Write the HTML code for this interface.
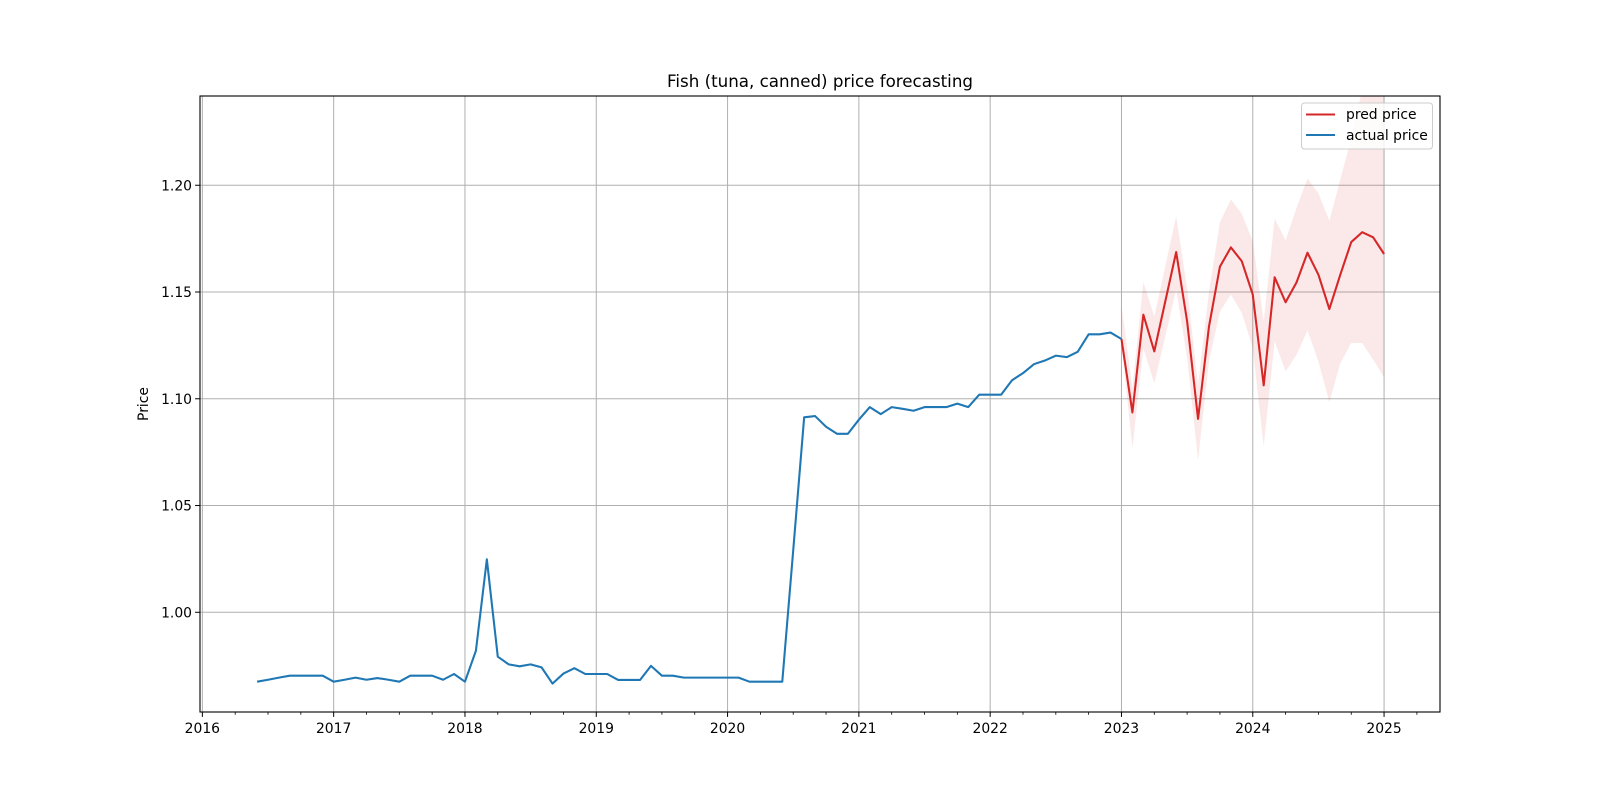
<!DOCTYPE html>
<html><head><meta charset="utf-8"><style>
body{margin:0;background:#fff;}
svg{display:block;font-family:"DejaVu Sans","Liberation Sans",sans-serif;}
</style></head><body>
<svg id="chart" width="1600" height="800" viewBox="0 0 1600 800">
<rect x="0" y="0" width="1600" height="800" fill="#fff"/>
<text x="820" y="87" text-anchor="middle" font-size="16.7" fill="#000">Fish (tuna, canned) price forecasting</text>
<text transform="translate(148,404) rotate(-90)" text-anchor="middle" font-size="13.9" fill="#000">Price</text>
<g id="grid"></g>
<g id="band"></g>
<g id="lines"></g>
<g id="axes"></g>
<g>
<rect x="1301.5" y="103" width="131" height="46" rx="3" fill="#fff" fill-opacity="0.8" stroke="#ccc"/>
<line x1="1306" y1="114.5" x2="1335" y2="114.5" stroke="#d62728" stroke-width="2"/>
<text x="1346" y="119" font-size="13.9" fill="#000">pred price</text>
<line x1="1306" y1="135" x2="1335" y2="135" stroke="#1f77b4" stroke-width="2"/>
<text x="1346" y="140" font-size="13.9" fill="#000">actual price</text>
</g>
</svg>
<script>
const actualStart = [2016, 6];
const actualValues = [0.9675,0.9684,0.9694,0.9703,0.9703,0.9703,0.9703,
0.9675,0.9684,0.9694,0.9684,0.9692,0.9684,0.9675,0.9703,0.9703,0.9703,0.9684,0.9711,
0.9675,0.982,1.0248,0.9792,0.9756,0.9747,0.9756,0.9742,0.9666,0.9713,0.9738,0.9711,
0.9711,0.9711,0.9683,0.9683,0.9683,0.9749,0.9703,0.9703,0.9694,0.9694,0.9694,0.9694,
0.9694,0.9694,0.9675,0.9675,0.9675,0.9675,1.029,1.0913,1.0919,1.0869,1.0836,1.0836,
1.0902,1.0961,1.0928,1.0961,1.0953,1.0944,1.0961,1.0961,1.0961,1.0977,1.0961,1.1019,
1.1019,1.1019,1.1087,1.112,1.1162,1.1179,1.1202,1.1195,1.122,1.1302,1.1302,1.131,
1.128];
const predStart = [2023, 1];
const predValues = [1.128,1.0936,1.1394,1.1222,1.1455,1.1687,1.1363,1.0906,1.1339,1.1619,1.1709,1.1644,
1.1488,1.1063,1.1569,1.1452,1.1545,1.1684,1.1581,1.142,1.1581,1.1734,1.178,1.1756,1.1678];
const upperValues = [1.1441,1.105,1.1547,1.1386,1.162,1.1855,1.1519,1.1066,1.1503,1.1827,1.1933,1.1866,
1.1738,1.1363,1.1844,1.1742,1.1894,1.2031,1.1963,1.1834,1.2027,1.222,1.245,1.26,1.27];
const lowerValues = [1.1261,1.0769,1.1234,1.1073,1.129,1.1511,1.1191,1.0714,1.1175,1.1409,1.1488,1.1402,
1.1238,1.0777,1.1269,1.1128,1.1206,1.132,1.1175,1.0984,1.1167,1.1261,1.1261,1.1183,1.11];
const yTicks = [1.00,1.05,1.10,1.15,1.20];
const xTickYears = [2016,2017,2018,2019,2020,2021,2022,2023,2024,2025];

const L=200,R=1440,T=96,B=712;
const XMIN=2015.982,XMAX=2025.426,YMIN=0.9533,YMAX=1.2418;
const xs=t=>L+(t-XMIN)/(XMAX-XMIN)*(R-L);
const ys=v=>B-(v-YMIN)/(YMAX-YMIN)*(B-T);
const tOf=(start,i)=>start[0]+(start[1]-1+i)/12;
const NS='http://www.w3.org/2000/svg';
function mk(tag,attrs,parent){const e=document.createElementNS(NS,tag);for(const k in attrs)e.setAttribute(k,attrs[k]);parent.appendChild(e);return e;}

const svg=document.getElementById('chart');
let defs=mk('defs',{},svg);
let cp=mk('clipPath',{id:'plotclip'},defs);
mk('rect',{x:L,y:T,width:R-L,height:B-T},cp);

const grid=document.getElementById('grid');
xTickYears.forEach(y=>{
  const g=mk('line',{x1:xs(y),x2:xs(y),y1:T,y2:B,stroke:'#b0b0b0','stroke-width':1},grid);
  
  
});
yTicks.forEach(v=>{
  const g=mk('line',{x1:L,x2:R,y1:ys(v),y2:ys(v),stroke:'#b0b0b0','stroke-width':1},grid);
  
  
});

const band=document.getElementById('band');
band.setAttribute('clip-path','url(#plotclip)');
let pts=[];
upperValues.forEach((v,i)=>pts.push(xs(tOf(predStart,i))+','+ys(v)));
for(let i=lowerValues.length-1;i>=0;i--)pts.push(xs(tOf(predStart,i))+','+ys(lowerValues[i]));
const poly=mk('polygon',{points:pts.join(' '),fill:'#d62728','fill-opacity':0.1},band);



const lines=document.getElementById('lines');
lines.setAttribute('clip-path','url(#plotclip)');
const pp=predValues.map((v,i)=>xs(tOf(predStart,i))+','+ys(v)).join(' ');
const pl=mk('polyline',{points:pp,fill:'none',stroke:'#d62728','stroke-width':2.08,'stroke-linejoin':'round'},lines);


const ap=actualValues.map((v,i)=>xs(tOf(actualStart,i))+','+ys(v)).join(' ');
const al=mk('polyline',{points:ap,fill:'none',stroke:'#1f77b4','stroke-width':2.08,'stroke-linejoin':'round'},lines);



const axes=document.getElementById('axes');
const frame=mk('rect',{x:L,y:T,width:R-L,height:B-T,fill:'none',stroke:'#000','stroke-width':1.1},axes);


yTicks.forEach(v=>{
  mk('line',{x1:L-4.9,x2:L,y1:ys(v),y2:ys(v),stroke:'#000','stroke-width':1},axes);
  const t=mk('text',{x:L-8,y:ys(v)+5,'text-anchor':'end','font-size':13.9,fill:'#000'},axes);
  t.textContent=v.toFixed(2);
  
  
});
for(let q=Math.ceil(XMIN*4);q<=Math.floor(XMAX*4);q++){
  const t=q/4;
  const major=(q%4===0);
  mk('line',{x1:xs(t),x2:xs(t),y1:B,y2:B+(major?4.9:2.8),stroke:'#000','stroke-width':major?1:0.8},axes);
}
xTickYears.forEach(y=>{
  const t=mk('text',{x:xs(y),y:B+21,'text-anchor':'middle','font-size':13.9,fill:'#000'},axes);
  t.textContent=String(y);
  
  
});
</script>
</body></html>
